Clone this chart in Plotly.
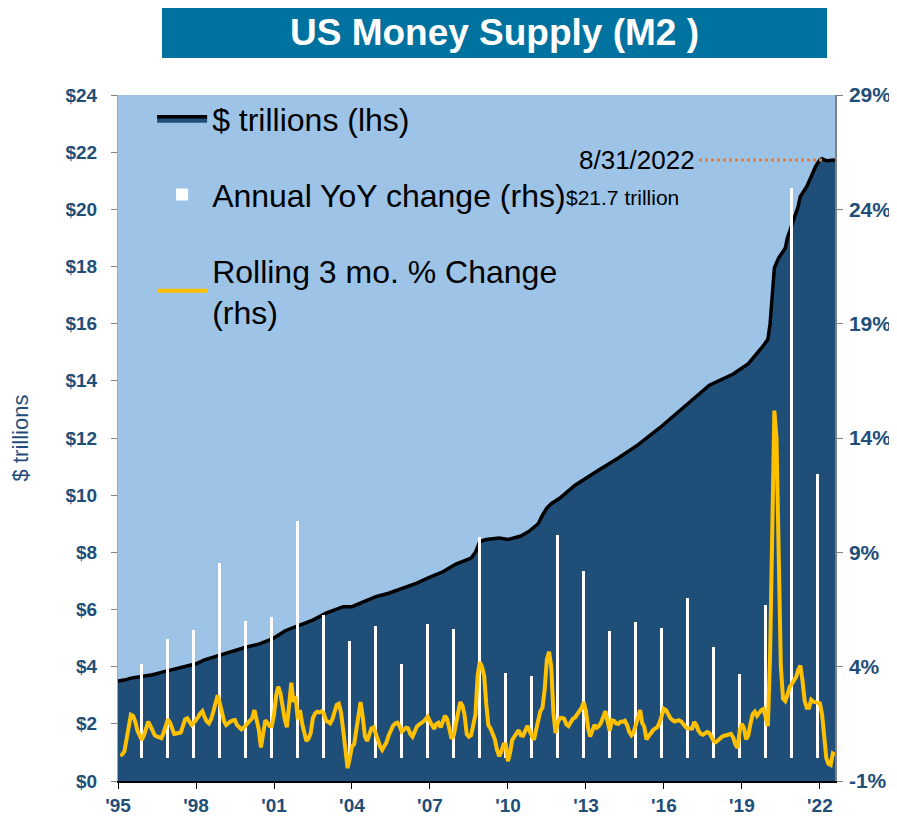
import pandas as pd
import plotly.graph_objects as go

# ---------------- data ----------------
# M2 money supply level, $ trillions
m2_dates = ["1995-01", "1995-04", "1995-07", "1995-10", "1996-01", "1996-05", "1996-09",
            "1997-01", "1997-05", "1997-09", "1998-01", "1998-05", "1998-09", "1999-01",
            "1999-06", "1999-12", "2000-06", "2000-12", "2001-03", "2001-06", "2001-09",
            "2002-02", "2002-07", "2003-01", "2003-05", "2003-09", "2004-01", "2004-06",
            "2004-12", "2005-06", "2005-12", "2006-07", "2007-01", "2007-07", "2008-01",
            "2008-05", "2008-08", "2008-10", "2008-12", "2009-03", "2009-09", "2010-01",
            "2010-07", "2010-11", "2011-03", "2011-05", "2011-07", "2011-09", "2012-01",
            "2012-08", "2013-01", "2013-07", "2014-04", "2015-01", "2015-11", "2016-08",
            "2017-05", "2017-10", "2018-09", "2019-04", "2019-10", "2020-01", "2020-02",
            "2020-03", "2020-04", "2020-06", "2020-09", "2020-10", "2021-01", "2021-03",
            "2021-04", "2021-07", "2021-09", "2021-11", "2022-01", "2022-02", "2022-04",
            "2022-06", "2022-08"]
m2_trillions = [3.50, 3.53, 3.60, 3.63, 3.66, 3.72, 3.80,
                3.87, 3.94, 4.01, 4.10, 4.24, 4.34, 4.43,
                4.55, 4.68, 4.79, 4.96, 5.10, 5.25, 5.34,
                5.49, 5.63, 5.87, 6.00, 6.10, 6.10, 6.27,
                6.45, 6.57, 6.73, 6.92, 7.13, 7.32, 7.59,
                7.72, 7.80, 8.00, 8.38, 8.45, 8.50, 8.45,
                8.57, 8.75, 9.00, 9.30, 9.55, 9.70, 9.90,
                10.35, 10.60, 10.88, 11.30, 11.76, 12.35, 12.95,
                13.55, 13.85, 14.24, 14.60, 15.14, 15.45, 16.00,
                16.90, 17.95, 18.30, 18.64, 19.00, 19.63, 20.10,
                20.45, 20.80, 21.15, 21.50, 21.73, 21.77, 21.70,
                21.72, 21.73]

# Annual YoY change (%), plotted at December of each year
yoy_years = list(range(1995, 2022))
yoy_pct = [4.10, 5.21, 5.62, 8.52, 6.01, 6.19, 10.37, 6.26, 5.14, 5.79, 4.10, 5.85,
           5.66, 9.67, 3.71, 3.60, 9.76, 8.18, 5.57, 5.94, 5.69, 7.02, 4.87, 3.68,
           6.70, 24.93, 12.41]

# Rolling 3-month % change, monthly from Feb 1995 to Aug 2022
roll_start = "1995-02-01"
roll_pct = [
    0.12, 0.15, 0.30, 0.90, 1.45, 1.90, 1.85, 1.60, 1.20, 0.95, 0.80,            # 1995
    1.00, 1.30, 1.60, 1.40, 1.20, 1.00, 0.95, 0.92, 0.87, 1.10, 1.35, 1.70,      # 1996
    1.55, 1.30, 1.06, 1.08, 1.10, 1.12, 1.40, 1.70, 1.74, 1.60, 1.45, 1.55,      # 1997
    1.65, 1.80, 1.95, 2.05, 1.80, 1.60, 1.52, 1.70, 2.03, 2.40, 2.75, 2.40,      # 1998
    2.00, 1.60, 1.45, 1.55, 1.60, 1.65, 1.67, 1.45, 1.33, 1.26, 1.33, 1.42,      # 1999
    1.57, 1.65, 1.75, 2.10, 1.74, 1.25, 0.47, 1.20, 1.65, 1.55, 1.40, 1.40,      # 2000
    1.90, 2.75, 3.12, 2.85, 2.20, 1.70, 1.35, 2.54, 3.30, 2.45, 2.69, 1.70,      # 2001
    2.10, 1.50, 1.10, 0.75, 0.85, 1.10, 1.75, 1.95, 2.03, 2.00, 2.05, 1.95,      # 2002
    1.65, 1.55, 1.52, 1.70, 2.10, 2.33, 2.38, 2.00, 1.20, 0.40, -0.44, 0.00,     # 2003
    0.50, 0.60, 1.20, 2.00, 2.45, 1.80, 0.95, 0.75, 1.10, 1.30, 1.35, 1.05,      # 2004
    0.75, 0.50, 0.36, 0.50, 0.70, 1.00, 1.27, 1.42, 1.52, 1.55, 1.40, 1.16,      # 2005
    1.25, 1.33, 1.30, 1.05, 0.94, 1.20, 1.38, 1.47, 1.52, 1.60, 1.70, 1.81,      # 2006
    1.60, 1.46, 1.28, 1.50, 1.55, 1.35, 1.55, 1.85, 1.70, 1.20, 0.85, 1.00,      # 2007
    1.45, 2.05, 2.45, 2.30, 1.90, 1.05, 0.94, 1.00, 1.50, 1.90, 3.60, 4.20,      # 2008
    4.00, 3.60, 2.40, 1.45, 1.30, 1.10, 0.82, 0.35, 0.08, 0.30, 0.60, 0.60,      # 2009
    -0.14, 0.25, 0.78, 0.94, 1.09, 1.22, 1.00, 0.98, 1.20, 1.42, 1.18, 0.94,     # 2010
    0.80, 1.25, 1.75, 2.05, 2.20, 3.00, 4.30, 4.65, 4.00, 2.00, 1.10, 1.55,      # 2011
    1.75, 1.76, 1.72, 1.47, 1.40, 1.60, 1.72, 1.78, 1.93, 2.05, 2.20, 2.45,      # 2012
    2.05, 1.30, 0.95, 1.20, 1.45, 1.33, 1.40, 1.55, 1.85, 2.05, 1.60, 1.20,      # 2013
    1.65, 1.62, 1.52, 1.50, 1.59, 1.59, 1.64, 1.45, 1.15, 1.00, 1.12, 1.45,      # 2014
    1.90, 2.10, 1.55, 1.37, 0.82, 0.98, 1.12, 1.22, 1.30, 1.35, 1.55, 1.85,      # 2015
    2.16, 2.10, 1.88, 1.75, 1.66, 1.60, 1.64, 1.65, 1.60, 1.45, 1.36, 1.30,      # 2016
    1.30, 1.30, 1.58, 1.45, 1.20, 1.07, 1.02, 1.10, 1.14, 1.10, 0.95, 0.75,      # 2017
    0.70, 0.79, 0.87, 0.95, 0.98, 1.01, 1.04, 1.06, 0.90, 0.60, 0.45, 1.20,      # 2018
    1.50, 1.30, 0.82, 1.00, 1.50, 1.92, 2.03, 1.85, 1.98, 2.10, 2.15, 1.85,      # 2019
    1.40, 4.50, 10.00, 15.20, 14.00, 9.50, 4.00, 2.60, 2.50, 2.75, 3.10, 3.25,   # 2020
    3.40, 3.55, 3.85, 4.05, 3.40, 2.50, 2.20, 2.20, 2.55, 2.47, 2.45, 2.42,      # 2021
    2.40, 1.90, 1.00, 0.00, -0.25, -0.30, 0.20, 0.14,                            # 2022
]
roll_dates = pd.date_range(roll_start, periods=len(roll_pct), freq="MS")

x_tick_years = list(range(1995, 2023, 3))
x_tick_labels = ["'" + str(y)[2:] for y in x_tick_years]
rhs_ticks = [-1, 4, 9, 14, 19, 24, 29]

last_label_date = "8/31/2022"
last_label_value = "$21.7 trillion"

# ---------------- styling ----------------
FONT = "Liberation Sans, Arial, sans-serif"
AXIS_BLUE = "#1F4E79"
AREA_BLUE = "#1F4E79"
BG_BLUE = "#9DC3E6"
YELLOW = "#FFC000"

# the page adds an 8px body margin, so the figure is sized to fill the rest
OFF = 8
W, H = 897 - OFF, 817 - OFF
ML, MT = 118 - OFF, 95 - OFF
PW, PH = 717, 686
MR, MB = W - ML - PW, H - MT - PH
PLOT_LEFT, PLOT_BOTTOM = 118, 781   # page pixels


def px_x(px):
    return (px - PLOT_LEFT) / PW


def px_y(py):
    return (PLOT_BOTTOM - py) / PH


fig = go.Figure()

fig.add_trace(go.Scatter(
    x=m2_dates, y=m2_trillions, name="$ trillions (lhs)",
    mode="lines", fill="tozeroy", fillcolor=AREA_BLUE,
    line=dict(color="black", width=3.5),
    legendgroup="g1", yaxis="y",
))

fig.add_trace(go.Bar(
    x=[f"{y}-12-01" for y in yoy_years], y=yoy_pct,
    name="Annual YoY change (rhs)",
    marker=dict(color="white", line=dict(width=0)),
    width=2.4e9, legendgroup="g2", yaxis="y2",
))

fig.add_trace(go.Scatter(
    x=roll_dates, y=roll_pct, name="Rolling 3 mo. % Change<br>(rhs)",
    mode="lines", line=dict(color=YELLOW, width=4),
    legendgroup="g3", yaxis="y2",
))

fig.update_layout(
    width=W, height=H,
    margin=dict(l=ML, r=MR, t=MT, b=MB, autoexpand=False),
    paper_bgcolor="white", plot_bgcolor=BG_BLUE,
    font=dict(family=FONT),
    showlegend=True,
    bargap=0,
    title=dict(
        text="US Money Supply (M2 )",
        font=dict(family=FONT, size=37, color="white", weight="bold"),
        x=(494.5 - OFF) / W, xanchor="center", xref="container",
        y=1 - (32 - OFF) / H, yanchor="middle", yref="container",
    ),
    legend=dict(
        x=0.0476, y=1.005, xanchor="left", yanchor="top",
        bgcolor="rgba(0,0,0,0)", borderwidth=0,
        font=dict(family=FONT, size=32, color="black"),
        tracegroupgap=31, traceorder="grouped",
        itemwidth=50,
    ),
    xaxis=dict(
        type="date", range=["1995-01-01", "2022-08-01"], automargin=False,
        tickvals=[f"{y}-01-01" for y in x_tick_years], ticktext=x_tick_labels,
        ticks="outside", ticklen=6, tickcolor="black", tickwidth=1,
        showline=True, linecolor="black", linewidth=2,
        showgrid=False, zeroline=False,
        tickfont=dict(family=FONT, size=19, color=AXIS_BLUE, weight="bold"),
    ),
    yaxis=dict(
        range=[0, 24], dtick=2, tickprefix="$", automargin=False,
        ticks="outside", ticklen=6, tickcolor="#808080",
        showline=True, linecolor="#A6A6A6", linewidth=1,
        showgrid=False, zeroline=False, ticklabelstandoff=10,
        tickfont=dict(family=FONT, size=19, color=AXIS_BLUE, weight="bold"),
        title=dict(text="$ trillions", font=dict(family=FONT, size=22, color=AXIS_BLUE),
                   standoff=30),
    ),
    yaxis2=dict(
        overlaying="y", side="right", range=[-1, 29], automargin=False,
        tickvals=rhs_ticks, ticktext=[f"{v}%" for v in rhs_ticks],
        ticks="outside", ticklen=6, tickcolor="#808080",
        showline=True, linecolor="#808080", linewidth=1.5,
        showgrid=False, zeroline=False, ticklabelstandoff=2,
        tickfont=dict(family=FONT, size=21, color=AXIS_BLUE, weight="bold"),
    ),
)

# title banner
fig.add_shape(type="rect", xref="paper", yref="paper",
              x0=px_x(162), x1=px_x(827), y0=px_y(58), y1=px_y(5),
              fillcolor="#0072A0", line=dict(width=0), layer="below")

# leader line from label to last value
last_val = m2_trillions[-1]
fig.add_shape(type="line", xref="paper", yref="y",
              x0=px_x(699), x1=px_x(822), y0=last_val, y1=last_val,
              line=dict(color="#ED7D31", width=3, dash="dot"))

fig.add_annotation(text=last_label_date, xref="paper", yref="y",
                   x=px_x(697), y=last_val, xanchor="right", yanchor="middle",
                   showarrow=False, font=dict(family=FONT, size=26, color="black"))
fig.add_annotation(text=last_label_value, xref="paper", yref="y",
                   x=px_x(681), y=last_val, yshift=-38,
                   xanchor="right", yanchor="middle",
                   showarrow=False, font=dict(family=FONT, size=21, color="black"))

fig.write_html("out.html")
